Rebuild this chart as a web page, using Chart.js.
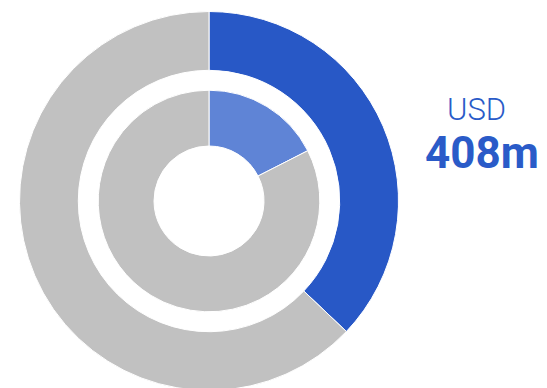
<!DOCTYPE html>
<html>
<head>
<meta charset="utf-8">
<script src="https://cdn.jsdelivr.net/npm/chart.js@4.4.1/dist/chart.umd.min.js"></script>
<style>
  html, body { margin: 0; padding: 0; background: #fff; overflow: hidden; }
  body { width: 547px; height: 388px; position: relative; font-family: Roboto, "Noto Sans", sans-serif; }
  #wrap { position: absolute; left: 19px; top: 11px; width: 380px; height: 380px; }
  .txt { position: absolute; color: #2a5bc8; white-space: nowrap; }
  #unitText { left: 447px; top: 94px; font-size: 31px; font-weight: 300; line-height: 31px; }
  #amountText { left: 425px; top: 131px; font-size: 44px; font-weight: 700; line-height: 44px; }
</style>
</head>
<body>
<div id="wrap"><canvas id="donut"></canvas></div>
<div class="txt" id="unitText"></div>
<div class="txt" id="amountText"></div>
<script>
// Values
const outerLabels = ['Selected', 'Rest'];
const outerValues = [408, 692];
const innerLabels = ['Selected', 'Rest'];
const innerValues = [17.5, 82.5];
const unitLabel = 'USD';
const amountLabel = '408m';

const blueDark = '#2858c6';
const blueLight = '#5f84d6';
const grey = '#c1c1c1';

document.getElementById('unitText').textContent = unitLabel;
document.getElementById('amountText').textContent = amountLabel;

const ctx = document.getElementById('donut').getContext('2d');
new Chart(ctx, {
    type: 'doughnut',
    data: {
        labels: outerLabels,
        datasets: [
            {
                data: outerValues,
                backgroundColor: [blueDark, grey],
                borderColor: '#fff',
                borderWidth: 1,
                weight: 59
            },
            {
                // empty gap between the two rings
                data: [1],
                backgroundColor: 'rgba(0,0,0,0)',
                borderWidth: 0,
                weight: 20
            },
            {
                data: innerValues,
                backgroundColor: [blueLight, grey],
                borderColor: '#fff',
                borderWidth: 1,
                weight: 56
            }
        ]
    },
    options: {
        responsive: true,
        maintainAspectRatio: false,
        animation: false,
        cutout: 55,
        layout: { padding: 0 },
        plugins: {
            legend: { display: false },
            tooltip: { enabled: false }
        }
    }
});
</script>
</body>
</html>
